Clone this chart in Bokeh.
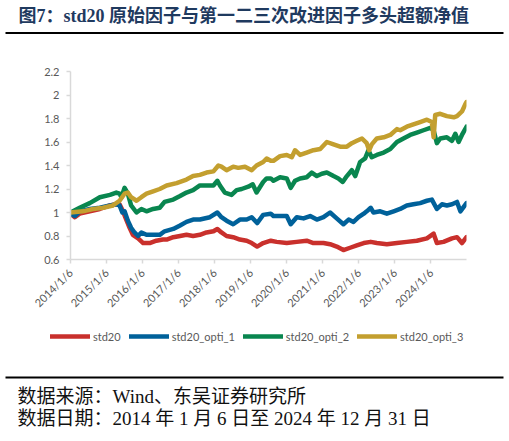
import math
import pandas as pd
from bokeh.plotting import figure
from bokeh.models import FixedTicker, Legend, LegendItem, Range1d, Plot
from bokeh.layouts import column
from bokeh.core.properties import value
from bokeh.embed import file_html
from bokeh.resources import INLINE

title_text = "图7：std20 原始因子与第一二三次改进因子多头超额净值"
source_text = "数据来源：Wind、东吴证券研究所"
date_text = "数据日期：2014 年 1 月 6 日至 2024 年 12 月 31 日"

series_names = ["std20", "std20_opti_1", "std20_opti_2", "std20_opti_3"]
series_colors = ["#C9302C", "#00619A", "#09864F", "#C39F2F"]

std20 = [
    ("2014-01-06", 0.99), ("2014-02-19", 0.96), ("2014-04-09", 0.99), ("2014-07-20", 1.01),
    ("2014-10-30", 1.03), ("2015-02-10", 1.06), ("2015-04-15", 1.07), ("2015-05-18", 1.07),
    ("2015-06-22", 1.01), ("2015-07-25", 0.94), ("2015-08-28", 0.87), ("2015-09-30", 0.81),
    ("2015-11-22", 0.78), ("2016-01-12", 0.74), ("2016-03-18", 0.74), ("2016-05-25", 0.76),
    ("2016-07-30", 0.77), ("2016-09-06", 0.77), ("2016-11-12", 0.79), ("2017-01-20", 0.80),
    ("2017-03-26", 0.81), ("2017-06-01", 0.80), ("2017-08-09", 0.81), ("2017-10-15", 0.83),
    ("2017-12-24", 0.84), ("2018-02-02", 0.86), ("2018-03-15", 0.83), ("2018-05-06", 0.80),
    ("2018-07-12", 0.79), ("2018-09-18", 0.77), ("2018-11-26", 0.76), ("2019-01-16", 0.74),
    ("2019-03-12", 0.71), ("2019-05-12", 0.74), ("2019-07-28", 0.76), ("2019-09-26", 0.75),
    ("2020-01-06", 0.74), ("2020-04-16", 0.75), ("2020-07-26", 0.76), ("2020-10-02", 0.74),
    ("2021-01-12", 0.74), ("2021-03-20", 0.73), ("2021-05-26", 0.71), ("2021-08-02", 0.68),
    ("2021-10-09", 0.70), ("2021-12-16", 0.72), ("2022-02-24", 0.74), ("2022-05-06", 0.75),
    ("2022-07-06", 0.74), ("2022-10-16", 0.73), ("2023-01-26", 0.74), ("2023-05-06", 0.75),
    ("2023-08-16", 0.76), ("2023-11-26", 0.78), ("2024-02-02", 0.82), ("2024-03-06", 0.74),
    ("2024-05-12", 0.75), ("2024-08-06", 0.78), ("2024-09-26", 0.79), ("2024-11-15", 0.74),
    ("2024-12-31", 0.79),
]

std20_opti_1 = [
    ("2014-01-06", 0.99), ("2014-02-19", 0.97), ("2014-04-09", 1.01), ("2014-07-20", 1.03),
    ("2014-10-30", 1.04), ("2015-02-10", 1.06), ("2015-04-15", 1.07), ("2015-05-18", 1.06),
    ("2015-06-15", 1.00), ("2015-07-08", 1.01), ("2015-08-10", 0.93), ("2015-09-12", 0.87),
    ("2015-10-16", 0.83), ("2015-11-22", 0.80), ("2015-12-25", 0.83), ("2016-02-15", 0.81),
    ("2016-04-22", 0.81), ("2016-06-28", 0.81), ("2016-08-16", 0.84), ("2016-11-12", 0.86),
    ("2017-01-20", 0.89), ("2017-03-26", 0.92), ("2017-06-01", 0.94), ("2017-08-09", 0.94),
    ("2017-11-18", 0.96), ("2018-02-02", 1.00), ("2018-03-15", 0.96), ("2018-05-06", 0.93),
    ("2018-07-12", 0.90), ("2018-09-18", 0.94), ("2018-11-26", 0.94), ("2019-01-16", 0.96),
    ("2019-03-12", 0.91), ("2019-05-12", 0.98), ("2019-07-28", 0.99), ("2019-08-24", 0.97),
    ("2019-10-30", 0.97), ("2020-01-06", 0.97), ("2020-02-15", 0.90), ("2020-04-16", 0.96),
    ("2020-06-24", 0.95), ("2020-08-30", 0.97), ("2020-11-06", 0.94), ("2021-01-12", 0.96),
    ("2021-03-20", 1.00), ("2021-05-26", 0.95), ("2021-08-02", 0.90), ("2021-09-24", 0.94),
    ("2021-11-12", 0.92), ("2022-01-02", 0.96), ("2022-02-24", 0.99), ("2022-03-26", 1.01),
    ("2022-05-06", 1.04), ("2022-06-03", 1.00), ("2022-08-10", 1.01), ("2022-10-16", 0.99),
    ("2022-12-24", 1.01), ("2023-02-28", 1.03), ("2023-05-06", 1.06), ("2023-07-12", 1.07),
    ("2023-09-18", 1.08), ("2023-11-26", 1.10), ("2024-01-15", 1.11), ("2024-03-06", 1.03),
    ("2024-04-26", 1.07), ("2024-06-15", 1.06), ("2024-08-06", 1.07), ("2024-09-26", 1.09),
    ("2024-10-30", 1.01), ("2024-12-31", 1.08),
]

std20_opti_2 = [
    ("2014-01-06", 1.00), ("2014-04-09", 1.04), ("2014-07-20", 1.08), ("2014-10-30", 1.13),
    ("2015-02-10", 1.15), ("2015-04-15", 1.17), ("2015-05-18", 1.16), ("2015-06-06", 1.13),
    ("2015-07-08", 1.21), ("2015-08-10", 1.16), ("2015-09-12", 1.06), ("2015-11-06", 1.00),
    ("2015-12-25", 1.03), ("2016-02-15", 1.01), ("2016-04-22", 1.03), ("2016-06-28", 1.04),
    ("2016-08-16", 1.09), ("2016-11-12", 1.11), ("2017-01-20", 1.14), ("2017-03-26", 1.17),
    ("2017-06-01", 1.19), ("2017-08-09", 1.23), ("2017-10-15", 1.23), ("2017-12-24", 1.23),
    ("2018-02-02", 1.27), ("2018-02-28", 1.23), ("2018-04-18", 1.17), ("2018-06-26", 1.15),
    ("2018-08-16", 1.19), ("2018-10-06", 1.20), ("2018-12-12", 1.22), ("2019-01-26", 1.24),
    ("2019-03-06", 1.17), ("2019-05-12", 1.26), ("2019-06-16", 1.29), ("2019-07-28", 1.29),
    ("2019-08-24", 1.27), ("2019-10-30", 1.30), ("2020-01-06", 1.29), ("2020-02-15", 1.21),
    ("2020-03-30", 1.27), ("2020-05-20", 1.29), ("2020-07-26", 1.30), ("2020-09-15", 1.34),
    ("2020-11-06", 1.31), ("2020-12-26", 1.33), ("2021-02-15", 1.34), ("2021-04-24", 1.31),
    ("2021-06-12", 1.29), ("2021-07-26", 1.26), ("2021-09-06", 1.31), ("2021-10-26", 1.36),
    ("2021-11-30", 1.31), ("2022-01-18", 1.43), ("2022-03-10", 1.46), ("2022-04-12", 1.53),
    ("2022-05-16", 1.47), ("2022-07-06", 1.49), ("2022-09-14", 1.51), ("2022-11-20", 1.54),
    ("2023-01-26", 1.60), ("2023-04-02", 1.63), ("2023-06-09", 1.66), ("2023-08-16", 1.68),
    ("2023-10-22", 1.70), ("2023-12-30", 1.72), ("2024-02-02", 1.70), ("2024-03-06", 1.59),
    ("2024-04-09", 1.63), ("2024-06-15", 1.64), ("2024-08-06", 1.61), ("2024-09-09", 1.67),
    ("2024-10-12", 1.60), ("2024-11-15", 1.66), ("2024-12-31", 1.73),
]

std20_opti_3 = [
    ("2014-01-06", 1.00), ("2014-05-12", 1.01), ("2014-08-22", 1.03), ("2014-12-03", 1.04),
    ("2015-03-12", 1.06), ("2015-05-18", 1.10), ("2015-07-08", 1.16), ("2015-08-10", 1.17),
    ("2015-09-12", 1.13), ("2015-11-06", 1.10), ("2015-12-25", 1.13), ("2016-02-15", 1.16),
    ("2016-04-22", 1.18), ("2016-06-28", 1.20), ("2016-09-06", 1.23), ("2016-12-16", 1.25),
    ("2017-03-26", 1.28), ("2017-06-01", 1.31), ("2017-08-09", 1.32), ("2017-10-15", 1.34),
    ("2017-12-24", 1.35), ("2018-02-12", 1.40), ("2018-03-15", 1.39), ("2018-05-06", 1.36),
    ("2018-07-12", 1.39), ("2018-09-01", 1.38), ("2018-11-09", 1.39), ("2019-01-16", 1.36),
    ("2019-03-06", 1.40), ("2019-05-12", 1.43), ("2019-06-16", 1.46), ("2019-07-28", 1.44),
    ("2019-08-24", 1.44), ("2019-10-30", 1.48), ("2020-01-06", 1.49), ("2020-02-26", 1.47),
    ("2020-03-30", 1.53), ("2020-05-20", 1.49), ("2020-07-26", 1.51), ("2020-10-02", 1.53),
    ("2020-12-10", 1.54), ("2021-02-15", 1.60), ("2021-04-24", 1.58), ("2021-06-30", 1.56),
    ("2021-09-06", 1.56), ("2021-10-26", 1.59), ("2021-12-16", 1.61), ("2022-02-06", 1.63),
    ("2022-03-26", 1.59), ("2022-04-20", 1.53), ("2022-05-16", 1.58), ("2022-07-06", 1.63),
    ("2022-09-14", 1.64), ("2022-11-20", 1.66), ("2023-01-26", 1.71), ("2023-02-28", 1.70),
    ("2023-05-06", 1.73), ("2023-07-12", 1.75), ("2023-09-18", 1.77), ("2023-11-26", 1.79),
    ("2024-01-15", 1.77), ("2024-02-02", 1.64), ("2024-02-18", 1.83), ("2024-04-09", 1.84),
    ("2024-06-15", 1.82), ("2024-08-24", 1.81), ("2024-09-26", 1.82), ("2024-11-15", 1.86),
    ("2024-12-18", 1.92), ("2024-12-31", 1.94),
]

x_tick_dates = ["2014-01-06", "2015-01-06", "2016-01-06", "2017-01-06", "2018-01-06", "2019-01-06",
                "2020-01-06", "2021-01-06", "2022-01-06", "2023-01-06", "2024-01-06"]
x_tick_labels = ["2014/1/6", "2015/1/6", "2016/1/6", "2017/1/6", "2018/1/6", "2019/1/6",
                 "2020/1/6", "2021/1/6", "2022/1/6", "2023/1/6", "2024/1/6"]
y_ticks = [0.6, 0.8, 1.0, 1.2, 1.4, 1.6, 1.8, 2.0, 2.2]
y_tick_labels = ["0.6", "0.8", "1", "1.2", "1.4", "1.6", "1.8", "2", "2.2"]

W = 509
CJK_SERIF = value("'Liberation Serif', 'Noto Sans CJK SC'")
HAS_FRAME_ALIGN = "frame_align" in Plot.properties()


def blank(height):
    f = figure(width=W, height=height, x_range=Range1d(0, W), y_range=Range1d(height, 0),
               toolbar_location=None, output_backend="svg", min_border=0,
               min_border_left=0, min_border_right=0, min_border_top=0, min_border_bottom=0,
               x_axis_location=None, y_axis_location=None, outline_line_color=None)
    f.grid.visible = False
    if HAS_FRAME_ALIGN:
        f.frame_align = False
    return f


# header (page y 0..40)
header = blank(40)
header.text(x=[18], y=[15], text=[title_text], text_font=CJK_SERIF, text_font_size="18px",
            text_font_style="bold", text_color="#1F3A5F", text_baseline="middle")
header.segment(x0=[5], y0=[32.5], x1=[503], y1=[32.5], line_color="black", line_width=2)


def ms(d):
    return pd.Timestamp(d).value / 1e6


# main chart (page y 40..318)
p = figure(width=W, height=278, x_axis_type="datetime",
           x_range=Range1d(pd.Timestamp("2014-01-06"), pd.Timestamp("2024-12-31")),
           y_range=Range1d(0.6, 2.2), toolbar_location=None, output_backend="svg",
           min_border_left=70, min_border_right=43, min_border_top=31, min_border_bottom=59,
           outline_line_color=None)
p.grid.visible = False
if HAS_FRAME_ALIGN:
    p.frame_align = False

tick_ms = [ms(d) for d in x_tick_dates]
p.xaxis.ticker = FixedTicker(ticks=tick_ms)
p.xaxis.major_label_overrides = {t: lab for t, lab in zip(tick_ms, x_tick_labels)}
p.xaxis.major_label_orientation = math.pi / 4
p.yaxis.ticker = FixedTicker(ticks=y_ticks)
p.yaxis.major_label_overrides = {t: lab for t, lab in zip(y_ticks, y_tick_labels)}

for ax in (p.xaxis, p.yaxis):
    ax.axis_line_color = "#D9D9D9"
    ax.axis_line_width = 1.5
    ax.major_tick_line_color = "#D9D9D9"
    ax.major_tick_line_width = 1.5
    ax.major_tick_in = 0
    ax.major_tick_out = 4
    ax.minor_tick_line_color = None
    ax.major_label_text_color = "#595959"
    ax.major_label_text_font = "Lato"
    ax.major_label_text_font_size = "11px"
p.yaxis.major_label_standoff = 7
p.xaxis.major_label_standoff = 7

line_style = dict(line_width=4.5, line_join="round", line_cap="round")
for color, data in zip(series_colors, [std20, std20_opti_1, std20_opti_2, std20_opti_3]):
    xs = [pd.Timestamp(d) for d, _ in data]
    ys = [v for _, v in data]
    p.line(x=xs, y=ys, line_color=color, **line_style)

# legend strip (page y 318..354); its renderers hold no visible data, only legend swatches
leg_fig = blank(36)
items = []
for name, color in zip(series_names, series_colors):
    r = leg_fig.line(x=[float("nan")], y=[float("nan")], line_color=color, **line_style)
    items.append(LegendItem(label=name, renderers=[r]))
legend = Legend(items=items, orientation="horizontal", location=(50, 11),
                glyph_width=40, glyph_height=14, label_standoff=3, spacing=8,
                padding=0, margin=0, border_line_color=None, background_fill_alpha=0,
                label_text_font_size="11px", label_text_color="#595959", label_text_font="Lato")
leg_fig.add_layout(legend)

# footer (page y 354..441)
footer = blank(87)
footer.segment(x0=[5], y0=[23], x1=[503], y1=[23], line_color="black", line_width=2)
footer.text(x=[17, 17], y=[42, 64], text=[source_text, date_text], text_font=CJK_SERIF,
            text_font_size="19px", text_color="#111111", text_baseline="middle")

layout = column(header, p, leg_fig, footer, spacing=0)
open("out.html", "w").write(file_html(layout, INLINE))
